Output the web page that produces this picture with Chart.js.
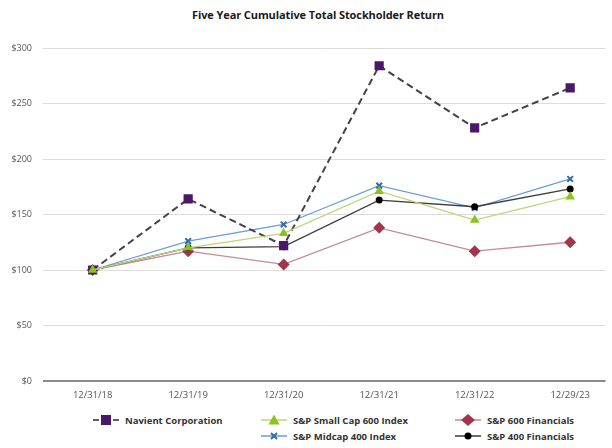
<!DOCTYPE html>
<html>
<head>
<meta charset="utf-8">
<script src="https://cdn.jsdelivr.net/npm/chart.js@4"></script>
<style>
  html, body { margin: 0; padding: 0; background: #fff; }
  body { width: 612px; height: 448px; overflow: hidden; font-family: "Open Sans", sans-serif; }
  #wrap { position: relative; width: 612px; height: 448px; }
  #chartBox { position: absolute; left: 0; top: 0; width: 612px; height: 410px; }
  #title { position: absolute; top: 6px; left: 118px; width: 400px; text-align: center;
           font-size: 11px; font-weight: 700; color: #1a1a1a; line-height: 18px; letter-spacing: -0.1px; }
  .leg { position: absolute; display: flex; align-items: center; height: 14px;
         font-size: 9.5px; font-weight: 700; color: #333; white-space: nowrap; }
  .leg svg { margin-right: 5px; }
</style>
</head>
<body>
<div id="wrap">
  <div id="title">Five Year Cumulative Total Stockholder Return</div>
  <div id="chartBox"><canvas id="graphic"></canvas></div>
  <div id="legend"></div>
</div>
<script>
const dates = ['12/31/18', '12/31/19', '12/31/20', '12/31/21', '12/31/22', '12/29/23'];
const yTicks = [0, 50, 100, 150, 200, 250, 300];

const navient = [100, 164, 122, 284, 228, 264];
const smallCap600 = [100, 120, 133, 171, 145, 166];
const midcap400 = [100, 126, 141, 176, 156, 182];
const fin600 = [100, 117, 105, 138, 117, 125];
const fin400 = [100, 120, 121, 163, 157, 173];

const toPoints = arr => arr.map((v, i) => ({ x: i, y: v }));

/* series: datos + estilo */
const series = [
  { label: 'Navient Corporation', data: navient, line: '#45404d', dash: [7, 4], width: 2,
    style: 'rect', point: '#4b176b', radius: 6.5, order: 1, legLeft: 92, legTop: 413 },
  { label: 'S&P Small Cap 600 Index', data: smallCap600, line: '#bdd67c', dash: [], width: 1.3,
    style: 'triangle', point: '#8cc21e', radius: 5.5, order: 0, legLeft: 260, legTop: 413 },
  { label: 'S&P Midcap 400 Index', data: midcap400, line: '#6b9ed2', dash: [], width: 1.3,
    style: 'crossRot', point: '#2f6db3', radius: 4, order: 3, legLeft: 260, legTop: 429 },
  { label: 'S&P 600 Financials', data: fin600, line: '#c48a96', dash: [], width: 1.3,
    style: 'rectRot', point: '#a3344c', radius: 6, order: 4, legLeft: 454, legTop: 413 },
  { label: 'S&P 400 Financials', data: fin400, line: '#3d3d3d', dash: [], width: 1.3,
    style: 'circle', point: '#000000', radius: 3.5, order: 2, legLeft: 454, legTop: 429 }
];

const config = {
  type: 'line',
  data: {
    datasets: series.map(s => ({
      label: s.label,
      data: toPoints(s.data),
      order: s.order,
      borderColor: s.line,
      borderWidth: s.width,
      borderDash: s.dash,
      pointStyle: s.style,
      pointBackgroundColor: s.point,
      pointBorderColor: s.point,
      pointBorderWidth: s.style === 'crossRot' ? 2 : 0,
      pointRadius: s.radius,
      pointHoverRadius: s.radius,
      tension: 0,
      fill: false
    }))
  },
  options: {
    responsive: true,
    maintainAspectRatio: false,
    animation: false,
    layout: { padding: { top: 48, right: 0, bottom: 0, left: 0 } },
    plugins: {
      legend: { display: false },
      title: { display: false },
      tooltip: { enabled: false }
    },
    scales: {
      x: {
        type: 'linear',
        min: -0.52,
        max: 5.37,
        afterBuildTicks: axis => { axis.ticks = dates.map((d, i) => ({ value: i })); },
        afterFit: axis => { axis.height = 29; },
        grid: { display: false, drawTicks: false },
        border: { display: false },
        ticks: {
          padding: 9,
          autoSkip: false,
          maxRotation: 0,
          color: '#555',
          font: { family: 'Open Sans', size: 9.5 },
          callback: v => dates[v] ?? ''
        }
      },
      y: {
        min: 0,
        max: 300,
        afterBuildTicks: axis => { axis.ticks = yTicks.map(v => ({ value: v })); },
        afterFit: axis => { axis.width = 43; },
        grid: {
          drawTicks: false,
          color: ctx => ctx.tick && ctx.tick.value === 0 ? '#8a8a8a' : '#dcdcdc',
          lineWidth: ctx => ctx.tick && ctx.tick.value === 0 ? 2 : 1
        },
        border: { display: false },
        ticks: {
          padding: 11,
          color: '#555',
          font: { family: 'Open Sans', size: 9 },
          callback: v => '$' + v
        }
      }
    }
  }
};

new Chart(document.querySelector('#graphic'), config);

/* leyenda en HTML */
function markerSvg(s) {
  const cx = 14, cy = 7;
  let shape = '';
  if (s.style === 'rect') {
    shape = `<rect x="${cx - 5}" y="${cy - 5}" width="10" height="10" fill="${s.point}"/>`;
  } else if (s.style === 'triangle') {
    shape = `<polygon points="${cx},${cy - 5.5} ${cx + 5.5},${cy + 4.5} ${cx - 5.5},${cy + 4.5}" fill="${s.point}"/>`;
  } else if (s.style === 'rectRot') {
    shape = `<polygon points="${cx},${cy - 6} ${cx + 7},${cy} ${cx},${cy + 6} ${cx - 7},${cy}" fill="${s.point}"/>`;
  } else if (s.style === 'crossRot') {
    shape = `<path d="M${cx - 3} ${cy - 3} L${cx + 3} ${cy + 3} M${cx + 3} ${cy - 3} L${cx - 3} ${cy + 3}" stroke="${s.point}" stroke-width="2"/>`;
  } else {
    shape = `<circle cx="${cx}" cy="${cy}" r="3.5" fill="${s.point}"/>`;
  }
  const lineCol = s.style === 'rect' ? '#6b4f7e' : s.line;
  const line = s.style === 'rect'
    ? `<line x1="1" y1="${cy}" x2="7" y2="${cy}" stroke="${lineCol}" stroke-width="2"/><line x1="21" y1="${cy}" x2="27" y2="${cy}" stroke="${lineCol}" stroke-width="2"/>`
    : `<line x1="1" y1="${cy}" x2="27" y2="${cy}" stroke="${lineCol}" stroke-width="1.5"/>`;
  return `<svg width="28" height="14" viewBox="0 0 28 14">${line}${shape}</svg>`;
}

document.querySelector('#legend').innerHTML = series
  .map(s => `<div class="leg" style="left:${s.legLeft}px;top:${s.legTop}px">${markerSvg(s)}<span>${s.label}</span></div>`)
  .join('');
</script>
</body>
</html>
